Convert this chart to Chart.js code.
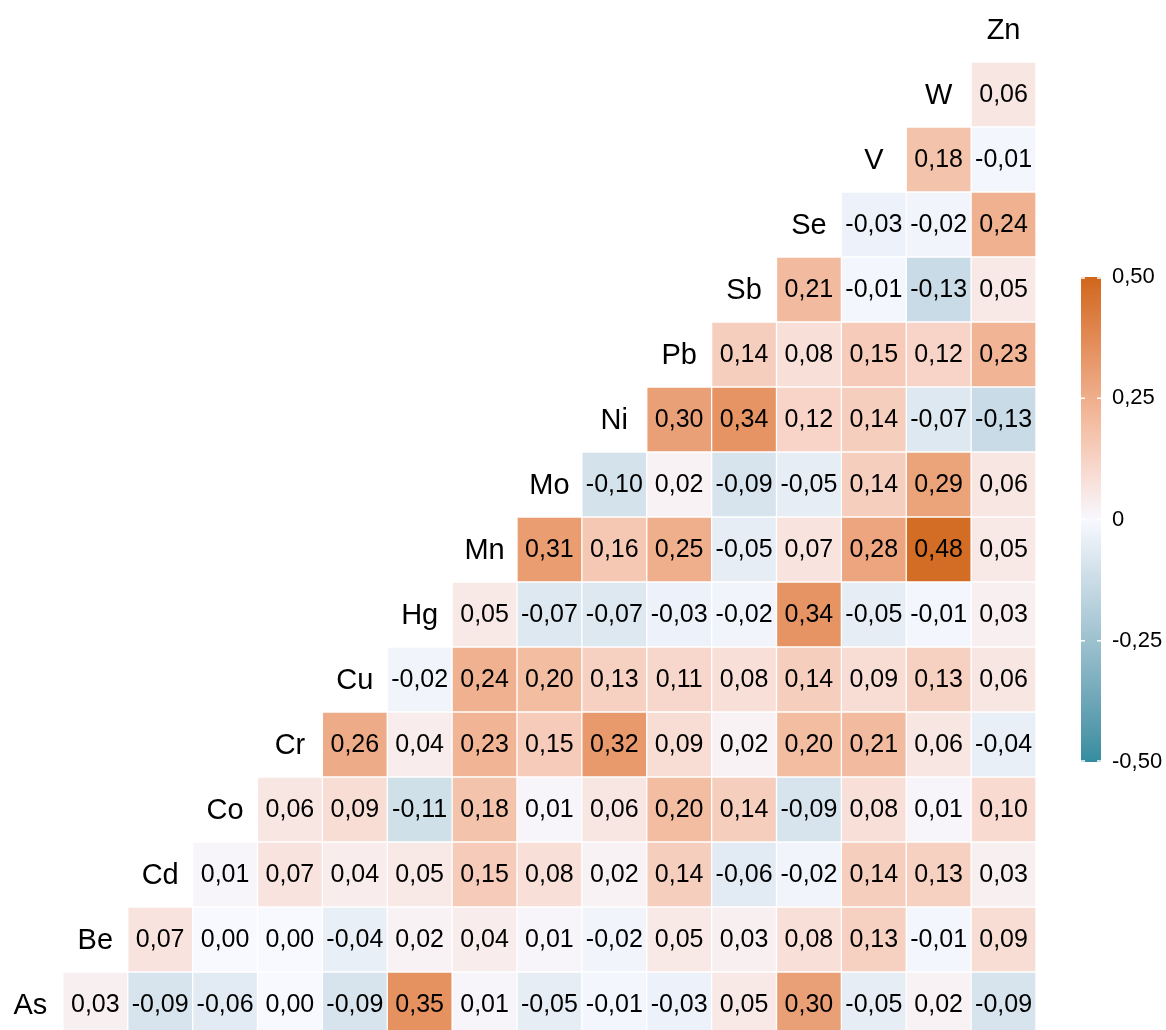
<!DOCTYPE html>
<html lang="pt-br">
<head>
    <meta charset="UTF-8">
    <title>Correlação entre elementos</title>
    <script src="https://cdn.jsdelivr.net/npm/chart.js"></script>
    <style>
        html, body { margin: 0; padding: 0; background: #ffffff; overflow: hidden; }
        #painel { position: relative; width: 1166px; height: 1030px; }
        #mapa { position: absolute; left: -2px; top: 0; }
        #legenda { position: absolute; left: 1060px; top: 250px; }
    </style>
</head>

<body>
    <div id="painel">
        <canvas id="mapa" width="1038" height="1030"></canvas>
        <canvas id="legenda" width="106" height="540"></canvas>
    </div>
</body>

</html>

<script>

    // variáveis (de baixo para cima / da esquerda para a direita)
    const variaveis = ['As', 'Be', 'Cd', 'Co', 'Cr', 'Cu', 'Hg', 'Mn', 'Mo', 'Ni', 'Pb', 'Sb', 'Se', 'V', 'W', 'Zn'];

    // correlação de cada elemento com os elementos seguintes da lista
    const corAs = [0.03, -0.09, -0.06, 0.00, -0.09, 0.35, 0.01, -0.05, -0.01, -0.03, 0.05, 0.30, -0.05, 0.02, -0.09];
    const corBe = [0.07, 0.00, 0.00, -0.04, 0.02, 0.04, 0.01, -0.02, 0.05, 0.03, 0.08, 0.13, -0.01, 0.09];
    const corCd = [0.01, 0.07, 0.04, 0.05, 0.15, 0.08, 0.02, 0.14, -0.06, -0.02, 0.14, 0.13, 0.03];
    const corCo = [0.06, 0.09, -0.11, 0.18, 0.01, 0.06, 0.20, 0.14, -0.09, 0.08, 0.01, 0.10];
    const corCr = [0.26, 0.04, 0.23, 0.15, 0.32, 0.09, 0.02, 0.20, 0.21, 0.06, -0.04];
    const corCu = [-0.02, 0.24, 0.20, 0.13, 0.11, 0.08, 0.14, 0.09, 0.13, 0.06];
    const corHg = [0.05, -0.07, -0.07, -0.03, -0.02, 0.34, -0.05, -0.01, 0.03];
    const corMn = [0.31, 0.16, 0.25, -0.05, 0.07, 0.28, 0.48, 0.05];
    const corMo = [-0.10, 0.02, -0.09, -0.05, 0.14, 0.29, 0.06];
    const corNi = [0.30, 0.34, 0.12, 0.14, -0.07, -0.13];
    const corPb = [0.14, 0.08, 0.15, 0.12, 0.23];
    const corSb = [0.21, -0.01, -0.13, 0.05];
    const corSe = [-0.03, -0.02, 0.24];
    const corV = [0.18, -0.01];
    const corW = [0.06];

    const linhas = [corAs, corBe, corCd, corCo, corCr, corCu, corHg, corMn, corMo, corNi, corPb, corSb, corSe, corV, corW];

    // marcas da barra de cores
    const ticksLegenda = [-0.5, -0.25, 0, 0.25, 0.5];

    const corBaixa = '#348ca0';
    const corMeio = '#f8f8ff';
    const corAlta = '#d0661a';
    const limite = 0.5;

    const fonte = '"Liberation Sans", Arial, Helvetica, sans-serif';
    Chart.defaults.font.family = fonte;

    // ---- escala de cores (interpolação em Lab, como no ggplot) ----
    function hexParaRgb(hex) {
        const n = parseInt(hex.slice(1), 16);
        return [(n >> 16) & 255, (n >> 8) & 255, n & 255];
    }

    function linear(c) {
        c = c / 255;
        return c <= 0.04045 ? c / 12.92 : Math.pow((c + 0.055) / 1.055, 2.4);
    }

    function gama(c) {
        const v = c <= 0.0031308 ? 12.92 * c : 1.055 * Math.pow(c, 1 / 2.4) - 0.055;
        return Math.max(0, Math.min(255, Math.round(v * 255)));
    }

    function rgbParaLab(rgb) {
        const r = linear(rgb[0]), g = linear(rgb[1]), b = linear(rgb[2]);
        const x = (0.4124564 * r + 0.3575761 * g + 0.1804375 * b) / 0.95047;
        const y = (0.2126729 * r + 0.7151522 * g + 0.0721750 * b);
        const z = (0.0193339 * r + 0.1191920 * g + 0.9503041 * b) / 1.08883;
        const f = t => t > 0.008856 ? Math.cbrt(t) : 7.787 * t + 16 / 116;
        const fx = f(x), fy = f(y), fz = f(z);
        return [116 * fy - 16, 500 * (fx - fy), 200 * (fy - fz)];
    }

    function labParaRgb(lab) {
        const fy = (lab[0] + 16) / 116;
        const fx = fy + lab[1] / 500;
        const fz = fy - lab[2] / 200;
        const inv = t => t * t * t > 0.008856 ? t * t * t : (t - 16 / 116) / 7.787;
        const x = inv(fx) * 0.95047, y = inv(fy), z = inv(fz) * 1.08883;
        const r = 3.2404542 * x - 1.5371385 * y - 0.4985314 * z;
        const g = -0.9692660 * x + 1.8760108 * y + 0.0415560 * z;
        const b = 0.0556434 * x - 0.2040259 * y + 1.0572252 * z;
        return [gama(r), gama(g), gama(b)];
    }

    const labBaixa = rgbParaLab(hexParaRgb(corBaixa));
    const labMeio = rgbParaLab(hexParaRgb(corMeio));
    const labAlta = rgbParaLab(hexParaRgb(corAlta));

    function corDaEscala(v) {
        const t = Math.min(1, Math.abs(v) / limite);
        const destino = v >= 0 ? labAlta : labBaixa;
        const lab = labMeio.map((c, i) => c + (destino[i] - c) * t);
        const rgb = labParaRgb(lab);
        return `rgb(${rgb[0]}, ${rgb[1]}, ${rgb[2]})`;
    }

    function formata(v) {
        return v.toFixed(2).replace('.', ',');
    }

    // ---- mapa de calor: uma série por linha, barras flutuantes [r, r+1] ----
    const series = linhas.map(function (valores, r) {
        return {
            data: variaveis.map((_, k) => k > r ? [r, r + 1] : null),
            backgroundColor: variaveis.map((_, k) => k > r ? corDaEscala(valores[k - r - 1]) : 'rgba(0,0,0,0)'),
            borderColor: '#ffffff',
            borderWidth: 1,
            borderSkipped: false,
            grouped: false,
            barPercentage: 1,
            categoryPercentage: 1
        };
    });

    // escreve os valores nas células e os nomes na diagonal
    const rotulos = {
        id: 'rotulos',
        afterDatasetsDraw(chart) {
            const { ctx, scales: { x, y } } = chart;
            ctx.save();
            ctx.textAlign = 'center';
            ctx.textBaseline = 'middle';
            ctx.fillStyle = '#000000';

            ctx.font = `25px ${fonte}`;
            linhas.forEach(function (valores, r) {
                valores.forEach(function (v, i) {
                    ctx.fillText(formata(v), x.getPixelForValue(r + 1 + i), y.getPixelForValue(r + 0.5) + 1);
                });
            });

            ctx.font = `29px ${fonte}`;
            variaveis.forEach(function (nome, r) {
                ctx.fillText(nome, x.getPixelForValue(r), y.getPixelForValue(r + 0.5) + 1);
            });
            ctx.restore();
        }
    };

    new Chart(document.getElementById('mapa'), {
        type: 'bar',
        data: { labels: variaveis, datasets: series },
        options: {
            responsive: false,
            animation: false,
            events: [],
            layout: { padding: 0 },
            plugins: { legend: { display: false }, tooltip: { enabled: false } },
            scales: {
                x: { display: false },
                y: { display: false, min: 0.108, max: 15.954 }
            }
        },
        plugins: [rotulos]
    });

    // ---- barra de cores ----
    function gradiente(chart) {
        const y = chart.scales.y;
        if (!chart.chartArea || !y) return corMeio;
        const g = chart.ctx.createLinearGradient(0, y.getPixelForValue(-limite), 0, y.getPixelForValue(limite));
        const passos = 50;
        for (let i = 0; i <= passos; i++) {
            g.addColorStop(i / passos, corDaEscala(-limite + 2 * limite * i / passos));
        }
        return g;
    }

    // tracinhos brancos nas bordas da barra
    const marcasLegenda = {
        id: 'marcasLegenda',
        afterDatasetsDraw(chart) {
            const { ctx, chartArea, scales: { y } } = chart;
            ctx.save();
            ctx.strokeStyle = '#ffffff';
            ctx.lineWidth = 1.5;
            ticksLegenda.forEach(function (v) {
                const py = Math.min(chartArea.bottom - 1, Math.max(chartArea.top + 1, y.getPixelForValue(v)));
                ctx.beginPath();
                ctx.moveTo(chartArea.left, py);
                ctx.lineTo(chartArea.left + 4, py);
                ctx.moveTo(chartArea.right - 4, py);
                ctx.lineTo(chartArea.right, py);
                ctx.stroke();
            });
            ctx.restore();
        }
    };

    new Chart(document.getElementById('legenda'), {
        type: 'bar',
        data: {
            labels: [''],
            datasets: [{
                data: [[-limite, limite]],
                backgroundColor: ctx => gradiente(ctx.chart),
                borderWidth: 0,
                barPercentage: 1,
                categoryPercentage: 1
            }]
        },
        options: {
            responsive: false,
            animation: false,
            events: [],
            layout: { padding: { left: 21, top: 27, bottom: 28, right: 0 } },
            plugins: { legend: { display: false }, tooltip: { enabled: false } },
            scales: {
                x: { display: false },
                y: {
                    position: 'right',
                    min: -limite,
                    max: limite,
                    afterFit(escala) { escala.width = 65; },
                    grid: { display: false, drawTicks: false },
                    border: { display: false },
                    afterBuildTicks(escala) { escala.ticks = ticksLegenda.map(v => ({ value: v })); },
                    ticks: {
                        padding: 11,
                        color: '#000000',
                        font: { size: 22 },
                        callback: v => Math.abs(v) < 1e-9 ? '0' : formata(v)
                    }
                }
            }
        },
        plugins: [marcasLegenda]
    });

</script>
